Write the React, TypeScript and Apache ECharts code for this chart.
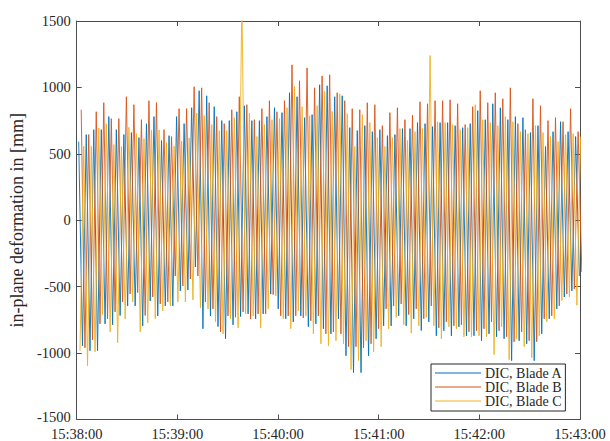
import React, { useEffect, useRef } from "react";
import * as echarts from "echarts";

// x-axis tick labels (one per minute, axis in seconds from 15:38:00)
const X_TICK_LABELS = ["15:38:00", "15:39:00", "15:40:00", "15:41:00", "15:42:00", "15:43:00"];
const SERIES_NAMES = ["DIC, Blade A", "DIC, Blade B", "DIC, Blade C"];

// estimated rotor revolution period [s] and first-extremum times [s]
const PERIOD_S = 4.488;
const A_PEAK_T0 = 1.18;
const A_TROUGH_T0 = 3.42;
const B_PEAK_T0 = 2.66;
const B_TROUGH_T0 = 4.9;
const C_TROUGH_T0 = 1.95;
const C_PEAK_T0 = 4.19;

// per-revolution maxima / minima [mm]
const A_PEAKS = [
  592, 645, 682, 682, 780, 682, 645, 660, 622, 727,
  780, 600, 637, 780, 727, 847, 975, 937, 855, 750,
  750, 817, 862, 750, 750, 780, 847, 810, 960, 930,
  772, 795, 1020, 1012, 930, 937, 697, 675, 712, 667,
  682, 637, 645, 690, 690, 735, 727, 705, 735, 735,
  712, 697, 727, 825, 757, 877, 847, 757, 780, 772,
  660, 712, 555, 667, 742, 667, 630,
];
const A_TROUGHS = [
  -945, -982, -982, -780, -787, -717, -645, -645, -795, -607,
  -720, -645, -645, -532, -525, -352, -817, -720, -800, -892,
  -787, -725, -705, -742, -705, -555, -667, -742, -765, -720,
  -802, -780, -817, -855, -742, -1020, -1147, -1147, -1020, -892,
  -795, -795, -720, -795, -742, -830, -765, -870, -832, -870,
  -802, -870, -870, -907, -855, -877, -892, -1057, -907, -930,
  -1057, -855, -742, -667, -577, -532, -420,
];
const B_PEAKS = [
  832, 645, 817, 885, 765, 765, 930, 870, 757, 900,
  885, 682, 630, 840, 840, 1005, 997, 885, 780, 727,
  832, 930, 870, 757, 840, 900, 817, 900, 1170, 1050,
  1147, 997, 1087, 1095, 960, 900, 840, 832, 885, 870,
  712, 810, 847, 757, 790, 892, 877, 900, 900, 907,
  877, 720, 855, 975, 885, 960, 915, 997, 727, 682,
  915, 862, 750, 772, 742, 840, 667,
];
const B_TROUGHS = [
  -960, -900, -780, -742, -690, -615, -555, -545, -717, -577,
  -630, -615, -420, -495, -442, -420, -615, -667, -840, -720,
  -730, -690, -742, -705, -705, -560, -720, -720, -720, -735,
  -757, -720, -855, -840, -855, -952, -952, -960, -930, -817,
  -667, -645, -630, -710, -667, -742, -645, -810, -765, -795,
  -787, -840, -832, -817, -765, -832, -877, -915, -840, -907,
  -915, -742, -720, -645, -555, -517, -390,
];
const C_TROUGHS = [
  -982, -1095, -990, -712, -840, -922, -742, -615, -840, -772,
  -742, -682, -645, -615, -615, -600, -660, -667, -765, -855,
  -742, -810, -705, -720, -810, -667, -570, -742, -817, -682,
  -720, -855, -930, -945, -907, -930, -1125, -1057, -907, -990,
  -952, -817, -732, -787, -850, -795, -732, -795, -892, -802,
  -817, -877, -877, -870, -877, -1012, -802, -1050, -892, -952,
  -1035, -870, -765, -742, -605, -577, -640,
];
const C_PEAKS = [
  557, 557, 695, 727, 570, 555, 700, 652, 615, 680,
  680, 585, 557, 595, 620, 807, 787, 720, 675, 675,
  772, 1700, 807, 630, 720, 757, 765, 847, 1007, 855,
  787, 862, 970, 820, 952, 802, 555, 795, 735, 622,
  555, 622, 690, 600, 667, 690, 1240, 742, 735, 720,
  682, 697, 870, 757, 735, 712, 780, 742, 667, 652,
  712, 660, 630, 592, 645, 652, 630,
];

const Y_MIN = -1500;
const Y_MAX = 1500;

function buildLine(
  first: number[],
  firstT0: number,
  second: number[],
  secondT0: number
): [number, number][] {
  const out: [number, number][] = [];
  for (let i = 0; i < first.length; i++) {
    out.push([firstT0 + i * PERIOD_S, first[i]]);
    if (i < second.length) out.push([secondT0 + i * PERIOD_S, second[i]]);
  }
  return out;
}

const FONT = "'Liberation Serif', 'Times New Roman', Times, serif";
const AXIS_COLOR = "#4d4d4d";
const TEXT_COLOR = "#262626";
const COLORS = ["#0072BD", "#D95319", "#EDB120"];

export default function App() {
  const ref = useRef<HTMLDivElement>(null);

  useEffect(() => {
    if (!ref.current) return;
    const chart = echarts.init(ref.current, undefined, { renderer: "svg" });

    const dataA = buildLine(A_PEAKS, A_PEAK_T0, A_TROUGHS, A_TROUGH_T0);
    const dataB = buildLine(B_PEAKS, B_PEAK_T0, B_TROUGHS, B_TROUGH_T0);
    const dataC = buildLine(C_TROUGHS, C_TROUGH_T0, C_PEAKS, C_PEAK_T0);

    const tick = { show: true, inside: true, length: 5, lineStyle: { color: AXIS_COLOR } };
    const line = { show: true, onZero: false, lineStyle: { color: AXIS_COLOR, width: 1 } };

    chart.setOption({
      animation: false,
      backgroundColor: "#ffffff",
      textStyle: { fontFamily: FONT },
      grid: { left: 72, right: 30, top: 21, bottom: 21.5, containLabel: false },
      legend: {
        data: SERIES_NAMES.map((n) => ({ name: n, icon: "rect" })),
        orient: "vertical",
        left: 431,
        top: 364,
        itemWidth: 46,
        itemHeight: 1,
        itemGap: 0,
        padding: [2, 3, 3, 4],
        backgroundColor: "#ffffff",
        borderColor: TEXT_COLOR,
        borderWidth: 1,
        borderRadius: 0,
        textStyle: {
          fontFamily: FONT,
          fontSize: 14,
          color: TEXT_COLOR,
          lineHeight: 13.5,
          padding: [0, 0, 0, -1],
        },
      },
      xAxis: [
        {
          type: "value",
          min: 0,
          max: 300,
          interval: 60,
          position: "bottom",
          axisLine: line,
          axisTick: tick,
          splitLine: { show: false },
          axisLabel: {
            margin: 8,
            fontFamily: FONT,
            fontSize: 14.5,
            lineHeight: 12,
            color: TEXT_COLOR,
            formatter: (v: number) => X_TICK_LABELS[Math.round(v / 60)] ?? "",
          },
        },
        {
          type: "value",
          min: 0,
          max: 300,
          interval: 60,
          position: "top",
          axisLine: line,
          axisTick: tick,
          splitLine: { show: false },
          axisLabel: { show: false },
        },
      ],
      yAxis: [
        {
          type: "value",
          min: Y_MIN,
          max: Y_MAX,
          interval: 500,
          position: "left",
          name: "in-plane deformation in [mm]",
          nameLocation: "middle",
          nameGap: 43,
          nameRotate: 90,
          nameTextStyle: { fontFamily: FONT, fontSize: 18, color: TEXT_COLOR },
          axisLine: line,
          axisTick: tick,
          splitLine: { show: false },
          axisLabel: {
            margin: 6,
            fontFamily: FONT,
            fontSize: 14.5,
            lineHeight: 12,
            color: TEXT_COLOR,
            // lowest label is lifted slightly (via an empty short second line) so it clears the time labels
            formatter: (v: number) => (v === Y_MIN ? `{a|${v}}\n{s|}` : String(v)),
            rich: {
              a: { fontFamily: FONT, fontSize: 14.5, lineHeight: 12, color: TEXT_COLOR },
              s: { fontFamily: FONT, fontSize: 1, lineHeight: 6 },
            },
          },
        },
        {
          type: "value",
          min: Y_MIN,
          max: Y_MAX,
          interval: 500,
          position: "right",
          axisLine: line,
          axisTick: tick,
          splitLine: { show: false },
          axisLabel: { show: false },
        },
      ],
      series: [
        { name: SERIES_NAMES[0], data: dataA, color: COLORS[0] },
        { name: SERIES_NAMES[1], data: dataB, color: COLORS[1] },
        { name: SERIES_NAMES[2], data: dataC, color: COLORS[2] },
      ].map((s) => ({
        name: s.name,
        type: "line",
        data: s.data,
        symbol: "none",
        showSymbol: false,
        clip: true,
        lineStyle: { color: s.color, width: 0.9 },
        itemStyle: { color: s.color },
      })),
    });

    return () => chart.dispose();
  }, []);

  return (
    <div
      ref={ref}
      style={{ position: "fixed", left: 0, top: 0, width: 610, height: 441 }}
    />
  );
}
